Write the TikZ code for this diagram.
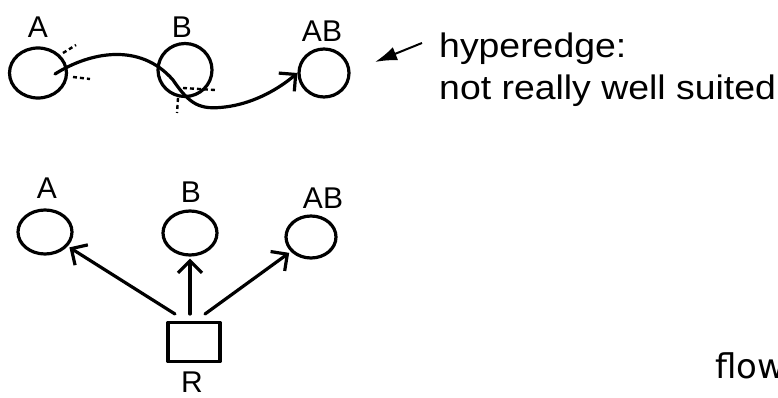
\documentclass[tikz,border=0pt]{standalone}
\usepackage{fontspec}
\setmainfont{Liberation Sans}
\newfontfamily\notefont[FakeStretch=1.1]{Liberation Sans}
\newfontfamily\flowfont{DejaVu Sans}
\usetikzlibrary{shapes.geometric,arrows.meta}

\begin{document}
\begin{tikzpicture}[x=1pt,y=-1pt,
  pen/.style={line width=3.2pt, line cap=round, line join=round},
  blob/.style={pen, draw, ellipse, inner sep=0pt},
  hand/.style={font=\fontsize{30}{30}\selectfont, inner sep=0pt},
  barb/.style={-{Straight Barb[length=12pt,width=24pt]}},
  tick/.style={line width=2.4pt, dash pattern=on 4pt off 3pt},
]
\fill[white] (0,0) rectangle (778,398);
\useasboundingbox (0,0) rectangle (778,398);

% --- hyperedge version ---
\node[blob, minimum width=57pt, minimum height=50pt] (a1) at (38,73) {};
\node[blob, minimum width=54pt, minimum height=53pt] (b1) at (185,70) {};
\node[blob, minimum width=50pt, minimum height=48pt] (ab1) at (324,73) {};
\node[hand] (la1) at (38,27) {A};
\node[hand] (lb1) at (182,27) {B};
\node[hand] (lab1) at (322,31) {AB};

\coordinate (hs) at (55,74);
\draw[pen, barb] (hs) .. controls (90,52) and (140,42) .. (173,80)
  .. controls (190,105) and (200,110) .. (225,107)
  .. controls (250,104) and (275,92) .. (ab1.west);

\draw[tick] (63,53) -- (76,45);
\draw[tick] (73,77) -- (90,79);
\draw[tick] (183,88) -- (215,90);
\draw[tick] (178,98) -- (177,113);

% --- comment on the hyperedge ---
\node[anchor=north west, align=left, font=\notefont\fontsize{34}{42}\selectfont, inner sep=0pt]
  (note) at (439,33) {hyperedge:\\not really well suited};
\coordinate (ptail) at (422,43);
\coordinate (phead) at (375,62);
\draw[line width=2pt, -{Latex[length=22pt,width=14pt]}] (ptail) -- (phead);

% --- reaction node version ---
\node[blob, minimum width=54pt, minimum height=44pt] (a2) at (45,232) {};
\node[blob, minimum width=54pt, minimum height=44pt] (b2) at (190,233) {};
\node[blob, minimum width=50pt, minimum height=42pt] (ab2) at (311,237) {};
\node[hand] (la2) at (47,188) {A};
\node[hand] (lb2) at (191,192) {B};
\node[hand] (lab2) at (323,198) {AB};

\node[draw, pen, minimum width=52pt, minimum height=39pt, inner sep=0pt] (r) at (194,342) {};
\node[hand] (lr) at (192,382) {R};

\coordinate (ra) at (175,314);
\coordinate (rb) at (190,314);
\coordinate (rab) at (205,314);
\draw[pen, barb, shorten >=2pt] (ra) -- (a2);
\draw[pen, barb, shorten >=2pt] (rb) -- (b2);
\draw[pen, barb, shorten >=2pt] (rab) -- (ab2);

\node[anchor=base west, font=\flowfont\fontsize{34}{34}\selectfont, inner sep=0pt]
  (flow) at (715,378) {flow};
\end{tikzpicture}
\end{document}
